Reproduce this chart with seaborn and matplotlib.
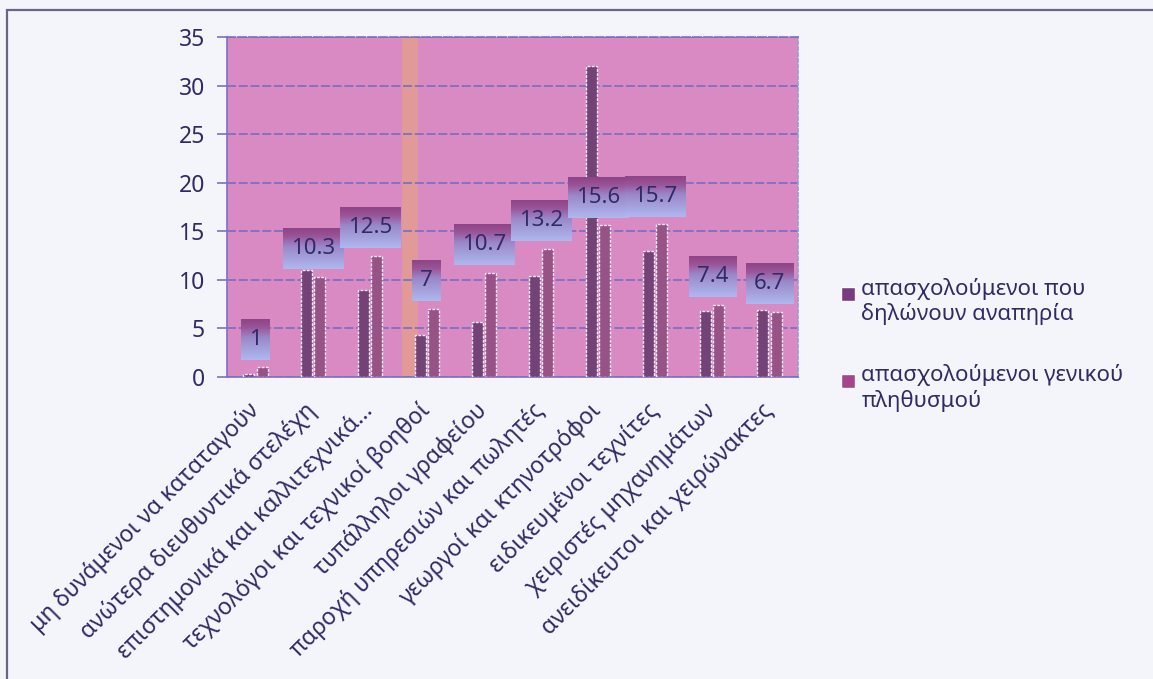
import numpy as np
import pandas as pd
import seaborn as sns
import matplotlib
matplotlib.use("Agg")
import matplotlib.pyplot as plt
from matplotlib.patches import Patch, Rectangle
from matplotlib.legend_handler import HandlerPatch
from matplotlib.colors import LinearSegmentedColormap

# ---- data -------------------------------------------------------------
categories = [
    "μη δυνάμενοι να καταταγούν",
    "ανώτερα διευθυντικά στελέχη",
    "επιστημονικά και καλλιτεχνικά...",
    "τεχνολόγοι και τεχνικοί βοηθοί",
    "τυπάλληλοι γραφείου",
    "παροχή υπηρεσιών και πωλητές",
    "γεωργοί και κτηνοτρόφοι",
    "ειδικευμένοι τεχνίτες",
    "χειριστές μηχανημάτων",
    "ανειδίκευτοι και χειρώνακτες",
]
series_names = [
    "απασχολούμενοι που\nδηλώνουν αναπηρία",
    "απασχολούμενοι γενικού\nπληθυσμού",
]
disabled = [0.3, 11.0, 9.0, 4.3, 5.7, 10.4, 32.0, 13.0, 6.8, 6.9]
general = [1, 10.3, 12.5, 7, 10.7, 13.2, 15.6, 15.7, 7.4, 6.7]
y_ticks = [0, 5, 10, 15, 20, 25, 30, 35]

# ---- style ------------------------------------------------------------
sns.set_theme(style="white")
plt.rcParams["font.family"] = ["Noto Sans", "DejaVu Sans"]
plt.rcParams["font.weight"] = 500

dark_col = "#7a3a80"
light_col = "#a3468c"
plot_bg = "#d98ac2"
grid_col = "#7b70c6"
text_col = "#2f2b66"
fig_bg = "#f4f4fb"

df = pd.DataFrame({
    "category": categories * 2,
    "series": [series_names[0]] * len(categories) + [series_names[1]] * len(categories),
    "value": disabled + general,
})

fig = plt.figure(figsize=(11.53, 6.79), dpi=100, facecolor=fig_bg)
ax = fig.add_axes([227 / 1153, 1 - 377 / 679, (798 - 227) / 1153, (377 - 37) / 679])
ax.set_facecolor(plot_bg)

# orange highlight stripe behind the bars
ax.axvspan(2.57, 2.85, color="#eaa878", alpha=0.55, zorder=0.5, lw=0)

sns.barplot(
    data=df, x="category", y="value", hue="series",
    order=categories, hue_order=series_names,
    palette=[dark_col, light_col], width=0.46, gap=0.16,
    legend=False, ax=ax, zorder=3,
    edgecolor="#f3eefa", linewidth=1.0, linestyle=(0, (2, 1)),
)

ax.set_ylim(0, 35)
ax.set_xlim(-0.5, len(categories) - 0.5)
ax.set_yticks(y_ticks)
ax.set_yticklabels([str(t) for t in y_ticks], fontsize=16.5, color=text_col)
ax.set_xlabel("")
ax.set_ylabel("")

ax.yaxis.grid(True, color=grid_col, lw=1.3, ls=(0, (5, 1.5)), zorder=1)
ax.xaxis.grid(False)
ax.set_axisbelow(True)
for side, sp in ax.spines.items():
    sp.set_color(grid_col)
    sp.set_linewidth(1.2)
    sp.set_visible(True)
ax.spines["top"].set_linestyle((0, (5, 1.5)))
ax.spines["right"].set_linestyle((0, (2, 1.5)))
ax.spines["right"].set_color("#9a9ad8")

# tick labels under category centres, tick marks on boundaries
ax.set_xticks(range(len(categories)))
ax.set_xticklabels(categories, rotation=45, ha="right", va="center",
                   rotation_mode="anchor", fontsize=16.5, color=text_col)
ax.tick_params(axis="x", which="major", length=0, pad=22)
ax.set_xticks(np.arange(-0.5, len(categories), 1.0), minor=True)
ax.tick_params(axis="x", which="minor", length=6, width=1.2, color=grid_col, direction="out")
ax.tick_params(axis="y", length=7, width=1.2, color=grid_col, pad=9, left=True)

# value labels with gradient boxes for the general population series
box_cmap = LinearSegmentedColormap.from_list(
    "labelbox",
    [(0.0, "#8f4488"), (0.2, "#9a5597"), (0.45, "#9a88c8"), (1.0, "#aeb8ee")],
)
grad = np.linspace(0, 1, 64).reshape(-1, 1)

labels = []
for i, v in enumerate(general):
    t = ax.text(i, v + 2.9, f"{v:g}", ha="center", va="center",
                fontsize=16, color=text_col, zorder=7)
    labels.append(t)

fig.canvas.draw()
renderer = fig.canvas.get_renderer()
px_per_unit = ax.get_window_extent(renderer).width / len(categories)
for i, (v, t) in enumerate(zip(general, labels)):
    w = t.get_window_extent(renderer).width
    hw = (w / 2 + 8) / px_per_unit
    ax.imshow(grad, cmap=box_cmap, aspect="auto", origin="upper",
              extent=[i - hw, i + hw, v + 0.8, v + 5.0], zorder=6,
              interpolation="bilinear")

ax.set_ylim(0, 35)
ax.set_xlim(-0.5, len(categories) - 0.5)


# legend: small squares aligned with the first line of each label
def top_square(legend, orig_handle, xdescent, ydescent, width, height, fontsize):
    s = 0.6 * fontsize
    return Rectangle((-xdescent + width - s, -ydescent + height - s * 1.0), s, s * 1.05)


handles = [Patch(facecolor=dark_col, label=series_names[0]),
           Patch(facecolor=light_col, label=series_names[1])]
leg = fig.legend(
    handles=handles, loc="upper left", bbox_to_anchor=(818 / 1153, 1 - 258 / 679),
    frameon=False, fontsize=16, handlelength=0.75, handleheight=1.6,
    handletextpad=0.3, labelspacing=1.75, labelcolor=text_col,
    handler_map={Patch: HandlerPatch(patch_func=top_square)},
)

# outer chart frame
fig.add_artist(Rectangle((7 / 1153, -0.2), 1.5, 1.2 - 10 / 679, transform=fig.transFigure,
                         fill=False, edgecolor="#6c6488", lw=1.6))

fig.savefig("out.png", dpi=100, facecolor=fig_bg)
